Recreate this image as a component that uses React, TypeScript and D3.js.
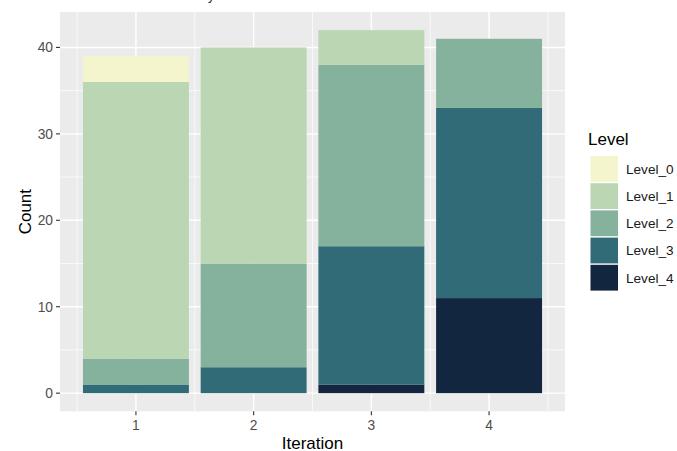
import React from "react";
import * as d3 from "d3";

const iterations = [1, 2, 3, 4];
const levels = ["Level_0", "Level_1", "Level_2", "Level_3", "Level_4"];
const level0 = [3, 0, 0, 0];
const level1 = [32, 25, 4, 0];
const level2 = [3, 12, 21, 8];
const level3 = [1, 3, 16, 22];
const level4 = [0, 0, 1, 11];
const levelColors = ["#F4F5CC", "#BBD6B3", "#85B29C", "#306B77", "#13263F"];
const yTicks = [0, 10, 20, 30, 40];
const yMinor = [5, 15, 25, 35];
const xMinor = [0.5, 1.5, 2.5, 3.5, 4.5];

const W = 677;
const H = 451;
const panel = { left: 60, right: 565, top: 12, bottom: 411.3 };

export default function App() {
  const seriesValues = [level0, level1, level2, level3, level4];
  const rows = iterations.map((it, i) => {
    const r: any = { iteration: it };
    levels.forEach((l, j) => (r[l] = seriesValues[j][i]));
    return r;
  });
  // ggplot stacks first level on top: bottom-up order is reversed
  const stackKeys = [...levels].reverse();
  const stacked = d3.stack().keys(stackKeys)(rows);

  const x = d3.scaleLinear().domain([0.355, 4.645]).range([panel.left, panel.right]);
  const y = d3.scaleLinear().domain([-2.1, 44.1]).range([panel.bottom, panel.top]);
  const color = d3.scaleOrdinal<string, string>().domain(levels).range(levelColors);
  const barW = 0.9;

  const font = "'Liberation Sans', Arial, Helvetica, sans-serif";

  const keyPitch = 27.2;
  const keyTop = 156;
  const keyH = 25.8;

  return (
    <svg
      width={W}
      height={H}
      style={{ position: "absolute", left: 0, top: 0, display: "block", background: "#fff" }}
      fontFamily={font}
    >
      <rect x={0} y={0} width={W} height={H} fill="#fff" />
      <text x={208} y={0.3} fontSize={13} fill="#222">y</text>
      <rect
        x={panel.left}
        y={panel.top}
        width={panel.right - panel.left}
        height={panel.bottom - panel.top}
        fill="#EBEBEB"
      />
      {yMinor.map((v) => (
        <line key={"ym" + v} x1={panel.left} x2={panel.right} y1={y(v)} y2={y(v)} stroke="#fff" strokeWidth={0.7} />
      ))}
      {xMinor.map((v) => (
        <line key={"xm" + v} x1={x(v)} x2={x(v)} y1={panel.top} y2={panel.bottom} stroke="#fff" strokeWidth={0.7} />
      ))}
      {yTicks.map((v) => (
        <line key={"yM" + v} x1={panel.left} x2={panel.right} y1={y(v)} y2={y(v)} stroke="#fff" strokeWidth={1.4} />
      ))}
      {iterations.map((v) => (
        <line key={"xM" + v} x1={x(v)} x2={x(v)} y1={panel.top} y2={panel.bottom} stroke="#fff" strokeWidth={1.4} />
      ))}
      {stacked.map((s) => (
        <g key={s.key} fill={color(s.key as string)}>
          {s.map((d, i) =>
            d[1] - d[0] > 0 ? (
              <rect
                key={i}
                x={x(iterations[i] - barW / 2)}
                width={x(iterations[i] + barW / 2) - x(iterations[i] - barW / 2)}
                y={y(d[1])}
                height={y(d[0]) - y(d[1])}
              />
            ) : null
          )}
        </g>
      ))}
      {/* y axis */}
      {yTicks.map((v) => (
        <g key={"yt" + v}>
          <line x1={panel.left - 4} x2={panel.left} y1={y(v)} y2={y(v)} stroke="#333" strokeWidth={1.1} />
          <text x={panel.left - 7} y={y(v)} dy="0.36em" textAnchor="end" fontSize={13.8} fill="#4D4D4D">
            {v}
          </text>
        </g>
      ))}
      {/* x axis */}
      {iterations.map((v) => (
        <g key={"xt" + v}>
          <line x1={x(v)} x2={x(v)} y1={panel.bottom} y2={panel.bottom + 4} stroke="#333" strokeWidth={1.1} />
          <text x={x(v)} y={429.5} textAnchor="middle" fontSize={13.8} fill="#4D4D4D">
            {v}
          </text>
        </g>
      ))}
      <text x={(panel.left + panel.right) / 2} y={448.5} textAnchor="middle" fontSize={17} fill="#000">
        Iteration
      </text>
      <text
        transform={`translate(30.5,${(panel.top + panel.bottom) / 2}) rotate(-90)`}
        textAnchor="middle"
        fontSize={17}
        fill="#000"
      >
        Count
      </text>
      {/* legend */}
      <text x={588} y={145} fontSize={17} fill="#000">
        Level
      </text>
      {levels.map((l, i) => (
        <g key={l}>
          <rect x={590.5} y={keyTop + i * keyPitch} width={27.5} height={keyH} fill={color(l)} />
          <text
            x={626}
            y={keyTop + i * keyPitch + keyH / 2}
            dy="0.36em"
            fontSize={13.6}
            fill="#1A1A1A"
          >
            {l}
          </text>
        </g>
      ))}
    </svg>
  );
}
